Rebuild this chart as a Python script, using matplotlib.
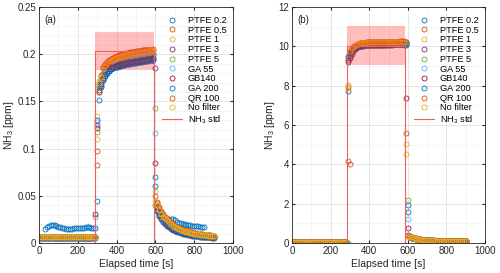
import numpy as np
import matplotlib
matplotlib.use('Agg')
import matplotlib.pyplot as plt
from matplotlib.ticker import FormatStrFormatter, MultipleLocator

plt.rcParams['font.family'] = ['Liberation Sans', 'DejaVu Sans']
plt.rcParams['mathtext.default'] = 'regular'

nan = np.nan

# sample times [s], shared by all series
t = [0, 10, 20, 30, 40, 50, 60, 70, 80, 90,
     100, 110, 120, 130, 140, 150, 160, 170, 180, 190,
     200, 210, 220, 230, 240, 250, 260, 270, 280, 290,
     300, 310, 320, 330, 340, 350, 360, 370, 380, 390,
     400, 410, 420, 430, 440, 450, 460, 470, 480, 490,
     500, 510, 520, 530, 540, 550, 560, 570, 580, 590,
     600, 610, 620, 630, 640, 650, 660, 670, 680, 690,
     700, 710, 720, 730, 740, 750, 760, 770, 780, 790,
     800, 810, 820, 830, 840, 850, 860, 870, 880, 890, 900]

labels = ['PTFE 0.2', 'PTFE 0.5', 'PTFE 1', 'PTFE 3', 'PTFE 5',
          'GA 55', 'GB140', 'GA 200', 'QR 100', 'No filter']
colors = ['#0072bd', '#d95319', '#edb120', '#7e2f8e', '#77ac30',
          '#4dbeee', '#a2142f', '#0072bd', '#d95319', '#edb120']

# ---------------- panel (a): 0.2 ppm standard ----------------
std_a_t = [0, 291, 291, 591, 591, 900]
std_a = [0, 0, 0.2035, 0.2035, 0, 0]
std_a_level = 0.2035
std_a_err = 0.02
band_a_t = [291, 591]

ptfe02_a = [0.0060, 0.0062, 0.0061, 0.0150, 0.0165, 0.0180, 0.0190, 0.0193, 0.0188, 0.0180,
            0.0172, 0.0165, 0.0160, 0.0155, 0.0150, 0.0148, 0.0150, 0.0152, 0.0155, 0.0155,
            0.0157, 0.0158, 0.0160, 0.0162, 0.0165, 0.0166, 0.0165, 0.0163, 0.0160, 0.0155,
            0.045, 0.152, 0.165, 0.173, 0.177, 0.180, 0.182, 0.184, 0.185, 0.186,
            0.187, 0.188, 0.188, 0.189, 0.189, 0.190, 0.190, 0.190, 0.191, 0.191,
            0.191, 0.192, 0.192, 0.192, 0.193, 0.193, 0.193, 0.194, 0.194, 0.194,
            0.070, 0.040, 0.034, 0.030, 0.027, 0.024, 0.023, 0.024, 0.0255, 0.0255,
            0.024, 0.0225, 0.0215, 0.021, 0.0205, 0.020, 0.0195, 0.019, 0.019, 0.0185,
            0.018, 0.018, 0.0175, 0.0172, 0.017, 0.0168, nan, nan, nan, nan, nan]
ptfe05_a = [0.0068, 0.0066, 0.0067, 0.0065, 0.0066, 0.0068, 0.0067, 0.0066, 0.0065, 0.0064,
            0.0065, 0.0066, 0.0067, 0.0066, 0.0065, 0.0064, 0.0065, 0.0066, 0.0066, 0.0065,
            0.0064, 0.0065, 0.0066, 0.0067, 0.0066, 0.0065, 0.0064, 0.0065, 0.0066, 0.0067,
            0.097, 0.165, 0.178, 0.186, 0.190, 0.192, 0.194, 0.195, 0.196, 0.197,
            0.198, 0.199, 0.199, 0.200, 0.200, 0.201, 0.201, 0.202, 0.202, 0.202,
            0.203, 0.203, 0.203, 0.204, 0.204, 0.204, 0.205, 0.205, 0.205, 0.205,
            0.040, 0.042, 0.037, 0.033, 0.030, 0.027, 0.025, 0.023, 0.021, 0.0195,
            0.018, 0.017, 0.016, 0.015, 0.014, 0.0135, 0.013, 0.0125, 0.012, 0.0115,
            0.011, 0.0105, 0.010, 0.0095, 0.009, 0.0088, 0.0085, 0.0082, 0.008, 0.0078, 0.0075]
ptfe1_a = [0.0062, 0.0063, 0.0061, 0.0062, 0.0064, 0.0063, 0.0062, 0.0061, 0.0062, 0.0063,
           0.0064, 0.0062, 0.0061, 0.0062, 0.0063, 0.0062, 0.0061, 0.0062, 0.0063, 0.0064,
           0.0063, 0.0062, 0.0061, 0.0062, 0.0063, 0.0064, 0.0063, 0.0062, 0.0061, 0.0062,
           0.135, 0.172, 0.177, 0.185, 0.189, 0.191, 0.193, 0.194, 0.195, 0.196,
           0.197, 0.198, 0.198, 0.199, 0.199, 0.200, 0.200, 0.201, 0.201, 0.201,
           0.202, 0.202, 0.202, 0.203, 0.203, 0.203, 0.204, 0.204, 0.204, 0.204,
           0.055, 0.039, 0.034, 0.030, 0.027, 0.025, 0.023, 0.021, 0.019, 0.018,
           0.0165, 0.0155, 0.0145, 0.0135, 0.0128, 0.012, 0.0115, 0.011, 0.0105, 0.010,
           0.0095, 0.0092, 0.0088, 0.0085, 0.0082, 0.008, 0.0078, 0.0075, 0.0072, 0.007, 0.0068]
ptfe3_a = [0.0058, 0.0059, 0.0060, 0.0059, 0.0058, 0.0057, 0.0058, 0.0059, 0.0060, 0.0059,
           0.0058, 0.0057, 0.0058, 0.0059, 0.0058, 0.0057, 0.0058, 0.0059, 0.0060, 0.0059,
           0.0058, 0.0059, 0.0058, 0.0057, 0.0058, 0.0059, 0.0060, 0.0059, 0.0058, 0.0059,
           0.125, 0.168, 0.172, 0.179, 0.183, 0.186, 0.188, 0.190, 0.191, 0.192,
           0.193, 0.194, 0.194, 0.195, 0.195, 0.196, 0.196, 0.197, 0.197, 0.197,
           0.198, 0.198, 0.198, 0.199, 0.199, 0.199, 0.200, 0.200, 0.200, 0.200,
           0.185, 0.038, 0.033, 0.029, 0.026, 0.024, 0.022, 0.020, 0.0185, 0.017,
           0.016, 0.015, 0.014, 0.013, 0.0122, 0.0115, 0.011, 0.0105, 0.010, 0.0095,
           0.009, 0.0087, 0.0084, 0.0081, 0.0078, 0.0075, 0.0072, 0.007, 0.0068, 0.0066, 0.0064]
ptfe5_a = [0.0061, 0.0060, 0.0059, 0.0060, 0.0061, 0.0062, 0.0061, 0.0060, 0.0059, 0.0060,
           0.0061, 0.0060, 0.0059, 0.0060, 0.0061, 0.0062, 0.0061, 0.0060, 0.0061, 0.0060,
           0.0059, 0.0060, 0.0061, 0.0062, 0.0061, 0.0060, 0.0059, 0.0060, 0.0061, 0.0060,
           0.118, 0.166, 0.173, 0.180, 0.184, 0.187, 0.189, 0.190, 0.191, 0.192,
           0.193, 0.193, 0.194, 0.194, 0.195, 0.195, 0.196, 0.196, 0.197, 0.197,
           0.197, 0.198, 0.198, 0.198, 0.199, 0.199, 0.199, 0.200, 0.200, 0.200,
           0.143, 0.037, 0.032, 0.028, 0.025, 0.023, 0.021, 0.0195, 0.018, 0.0168,
           0.0158, 0.0148, 0.0138, 0.0128, 0.012, 0.0113, 0.0108, 0.0103, 0.0098, 0.0093,
           0.0089, 0.0086, 0.0083, 0.008, 0.0077, 0.0074, 0.0071, 0.0069, 0.0067, 0.0065, 0.0063]
ga55_a = [0.0057, 0.0058, 0.0057, 0.0056, 0.0057, 0.0058, 0.0059, 0.0058, 0.0057, 0.0056,
          0.0057, 0.0058, 0.0057, 0.0056, 0.0057, 0.0058, 0.0059, 0.0058, 0.0057, 0.0058,
          0.0057, 0.0056, 0.0057, 0.0058, 0.0057, 0.0056, 0.0057, 0.0058, 0.0057, 0.027,
          0.128, 0.165, 0.172, 0.178, 0.182, 0.185, 0.187, 0.189, 0.190, 0.191,
          0.192, 0.192, 0.193, 0.193, 0.194, 0.194, 0.195, 0.195, 0.196, 0.196,
          0.196, 0.197, 0.197, 0.197, 0.198, 0.198, 0.198, 0.199, 0.199, 0.199,
          0.117, 0.036, 0.031, 0.027, 0.024, 0.022, 0.020, 0.0185, 0.017, 0.016,
          0.015, 0.014, 0.013, 0.0122, 0.0115, 0.0108, 0.0102, 0.0097, 0.0092, 0.0088,
          0.0084, 0.0081, 0.0078, 0.0075, 0.0072, 0.007, 0.0068, 0.0066, 0.0064, 0.0062, 0.006]
gb140_a = [0.0052, 0.0053, 0.0054, 0.0053, 0.0052, 0.0051, 0.0052, 0.0053, 0.0054, 0.0053,
           0.0052, 0.0053, 0.0054, 0.0053, 0.0052, 0.0051, 0.0052, 0.0053, 0.0052, 0.0053,
           0.0054, 0.0053, 0.0052, 0.0051, 0.0052, 0.0053, 0.0054, 0.0053, 0.0052, 0.031,
           0.122, 0.162, 0.168, 0.175, 0.179, 0.182, 0.184, 0.186, 0.187, 0.188,
           0.189, 0.189, 0.190, 0.190, 0.191, 0.191, 0.192, 0.192, 0.192, 0.193,
           0.193, 0.193, 0.194, 0.194, 0.194, 0.195, 0.195, 0.195, 0.196, 0.196,
           0.085, 0.034, 0.029, 0.025, 0.022, 0.020, 0.018, 0.0165, 0.015, 0.014,
           0.013, 0.012, 0.0113, 0.0106, 0.010, 0.0095, 0.009, 0.0086, 0.0082, 0.0078,
           0.0075, 0.0072, 0.007, 0.0068, 0.0066, 0.0064, 0.0062, 0.006, 0.0058, 0.0057, 0.0056]
ga200_a = [0.0055, 0.0056, 0.0055, 0.0054, 0.0055, 0.0056, 0.0057, 0.0056, 0.0055, 0.0054,
           0.0055, 0.0056, 0.0055, 0.0054, 0.0055, 0.0056, 0.0057, 0.0056, 0.0055, 0.0056,
           0.0055, 0.0054, 0.0055, 0.0056, 0.0055, 0.0054, 0.0055, 0.0056, 0.0055, 0.0056,
           0.130, 0.160, 0.166, 0.173, 0.177, 0.180, 0.182, 0.184, 0.185, 0.186,
           0.187, 0.188, 0.188, 0.189, 0.189, 0.190, 0.190, 0.191, 0.191, 0.191,
           0.192, 0.192, 0.192, 0.193, 0.193, 0.193, 0.194, 0.194, 0.194, 0.195,
           0.060, 0.035, 0.030, 0.026, 0.023, 0.021, 0.019, 0.0175, 0.016, 0.015,
           0.014, 0.013, 0.012, 0.0113, 0.0106, 0.010, 0.0095, 0.009, 0.0086, 0.0082,
           0.0078, 0.0075, 0.0072, 0.007, 0.0068, 0.0066, 0.0064, 0.0062, 0.006, 0.0059, 0.0058]
qr100_a = [0.0066, 0.0067, 0.0068, 0.0067, 0.0066, 0.0065, 0.0066, 0.0067, 0.0068, 0.0067,
           0.0066, 0.0065, 0.0066, 0.0067, 0.0068, 0.0067, 0.0066, 0.0065, 0.0066, 0.0067,
           0.0068, 0.0067, 0.0066, 0.0065, 0.0066, 0.0067, 0.0068, 0.0067, 0.0066, 0.0065,
           0.083, 0.160, 0.176, 0.185, 0.189, 0.192, 0.193, 0.195, 0.196, 0.197,
           0.198, 0.198, 0.199, 0.199, 0.200, 0.200, 0.201, 0.201, 0.202, 0.202,
           0.202, 0.203, 0.203, 0.203, 0.204, 0.204, 0.204, 0.205, 0.205, 0.206,
           0.050, 0.043, 0.038, 0.034, 0.031, 0.028, 0.026, 0.024, 0.022, 0.020,
           0.0185, 0.0172, 0.016, 0.015, 0.0142, 0.0135, 0.0128, 0.0122, 0.0117, 0.0112,
           0.0108, 0.0104, 0.010, 0.0096, 0.0092, 0.0089, 0.0086, 0.0083, 0.008, 0.0078, 0.0076]
nofilter_a = [0.0064, 0.0065, 0.0064, 0.0063, 0.0064, 0.0065, 0.0066, 0.0065, 0.0064, 0.0063,
              0.0064, 0.0065, 0.0066, 0.0065, 0.0064, 0.0063, 0.0064, 0.0065, 0.0064, 0.0063,
              0.0064, 0.0065, 0.0066, 0.0065, 0.0064, 0.0063, 0.0064, 0.0065, 0.0064, 0.0065,
              0.110, 0.170, 0.176, 0.184, 0.188, 0.191, 0.193, 0.194, 0.195, 0.196,
              0.197, 0.197, 0.198, 0.198, 0.199, 0.199, 0.200, 0.200, 0.201, 0.201,
              0.201, 0.202, 0.202, 0.202, 0.203, 0.203, 0.203, 0.204, 0.204, 0.204,
              0.045, 0.040, 0.035, 0.031, 0.028, 0.026, 0.024, 0.022, 0.020, 0.0185,
              0.017, 0.016, 0.015, 0.014, 0.0132, 0.0125, 0.012, 0.0114, 0.0109, 0.0104,
              0.010, 0.0096, 0.0092, 0.0089, 0.0086, 0.0083, 0.008, 0.0077, 0.0075, 0.0072, 0.007]

# ---------------- panel (b): 10 ppm standard ----------------
std_b_t = [0, 283, 283, 584, 584, 900]
std_b = [0, 0, 10.03, 10.03, 0, 0]
std_b_level = 10.03
std_b_err = 1.0
band_b_t = [285, 584]

ptfe02_b = [0.05, 0.04, 0.05, 0.06, 0.05, 0.04, 0.05, 0.05, 0.06, 0.05,
            0.04, 0.05, 0.05, 0.06, 0.05, 0.04, 0.05, 0.05, 0.06, 0.05,
            0.04, 0.05, 0.05, 0.06, 0.05, 0.04, 0.05, 0.05, 0.06, 7.75,
            9.60, 9.80, 9.90, 9.96, 10.00, 10.02, 10.04, 10.05, 10.06, 10.06,
            10.07, 10.07, 10.08, 10.08, 10.08, 10.09, 10.09, 10.09, 10.09, 10.10,
            10.10, 10.10, 10.10, 10.10, 10.10, 10.10, 10.10, 10.10, 10.08, 10.05,
            1.95, 0.32, 0.28, 0.25, 0.22, 0.20, 0.18, 0.17, 0.16, 0.15,
            0.14, 0.135, 0.13, 0.125, 0.12, 0.115, 0.11, 0.105, 0.10, 0.098,
            0.095, 0.092, 0.09, 0.088, 0.085, 0.083, 0.08, 0.078, 0.076, 0.08, 0.09]
ptfe05_b = [0.06, 0.05, 0.05, 0.04, 0.05, 0.06, 0.05, 0.05, 0.04, 0.05,
            0.06, 0.05, 0.05, 0.04, 0.05, 0.06, 0.05, 0.05, 0.04, 0.05,
            0.06, 0.05, 0.05, 0.04, 0.05, 0.06, 0.05, 0.05, 0.04, 7.95,
            9.75, 9.92, 10.02, 10.08, 10.12, 10.15, 10.17, 10.18, 10.19, 10.20,
            10.20, 10.21, 10.21, 10.21, 10.22, 10.22, 10.22, 10.22, 10.23, 10.23,
            10.23, 10.23, 10.23, 10.23, 10.24, 10.24, 10.24, 10.24, 10.24, 5.62,
            0.35, 0.33, 0.29, 0.26, 0.23, 0.21, 0.19, 0.175, 0.165, 0.155,
            0.145, 0.14, 0.135, 0.13, 0.125, 0.12, 0.115, 0.11, 0.105, 0.102,
            0.099, 0.096, 0.093, 0.091, 0.089, 0.087, 0.085, 0.083, 0.082, 0.085, 0.095]
ptfe1_b = [0.05, 0.05, 0.06, 0.05, 0.04, 0.05, 0.05, 0.06, 0.05, 0.04,
           0.05, 0.05, 0.06, 0.05, 0.04, 0.05, 0.05, 0.06, 0.05, 0.04,
           0.05, 0.05, 0.06, 0.05, 0.04, 0.05, 0.05, 0.06, 0.05, 7.90,
           9.72, 9.90, 10.00, 10.06, 10.10, 10.13, 10.15, 10.16, 10.17, 10.18,
           10.18, 10.19, 10.19, 10.19, 10.20, 10.20, 10.20, 10.20, 10.21, 10.21,
           10.21, 10.21, 10.21, 10.22, 10.22, 10.22, 10.22, 10.22, 10.22, 4.55,
           0.34, 0.32, 0.28, 0.25, 0.22, 0.20, 0.185, 0.17, 0.16, 0.15,
           0.142, 0.136, 0.13, 0.125, 0.12, 0.115, 0.11, 0.106, 0.102, 0.099,
           0.096, 0.093, 0.09, 0.088, 0.086, 0.084, 0.082, 0.08, 0.078, 0.082, 0.09]
ptfe3_b = [0.04, 0.05, 0.05, 0.05, 0.06, 0.05, 0.04, 0.05, 0.05, 0.05,
           0.06, 0.05, 0.04, 0.05, 0.05, 0.05, 0.06, 0.05, 0.04, 0.05,
           0.05, 0.05, 0.06, 0.05, 0.04, 0.05, 0.05, 0.05, 0.06, 9.20,
           9.40, 9.60, 9.80, 9.92, 10.00, 10.05, 10.08, 10.10, 10.12, 10.13,
           10.14, 10.14, 10.15, 10.15, 10.16, 10.16, 10.16, 10.17, 10.17, 10.17,
           10.17, 10.18, 10.18, 10.18, 10.18, 10.18, 10.19, 10.19, 10.19, 10.20,
           0.40, 0.31, 0.27, 0.24, 0.21, 0.19, 0.175, 0.165, 0.155, 0.145,
           0.138, 0.132, 0.127, 0.122, 0.117, 0.112, 0.107, 0.103, 0.10, 0.097,
           0.094, 0.091, 0.089, 0.087, 0.085, 0.082, 0.08, 0.078, 0.077, 0.08, 0.088]
ptfe5_b = [0.05, 0.06, 0.05, 0.04, 0.05, 0.05, 0.06, 0.05, 0.04, 0.05,
           0.05, 0.06, 0.05, 0.04, 0.05, 0.05, 0.06, 0.05, 0.04, 0.05,
           0.05, 0.06, 0.05, 0.04, 0.05, 0.05, 0.06, 0.05, 0.04, 9.50,
           9.70, 9.86, 9.95, 10.01, 10.05, 10.08, 10.10, 10.11, 10.12, 10.13,
           10.13, 10.14, 10.14, 10.15, 10.15, 10.15, 10.16, 10.16, 10.16, 10.16,
           10.17, 10.17, 10.17, 10.17, 10.17, 10.18, 10.18, 10.18, 10.18, 10.12,
           2.20, 0.31, 0.27, 0.24, 0.215, 0.195, 0.18, 0.168, 0.158, 0.148,
           0.14, 0.134, 0.128, 0.123, 0.118, 0.113, 0.108, 0.104, 0.10, 0.097,
           0.094, 0.091, 0.089, 0.087, 0.084, 0.082, 0.08, 0.078, 0.076, 0.079, 0.087]
ga55_b = [0.04, 0.05, 0.05, 0.06, 0.05, 0.04, 0.05, 0.05, 0.06, 0.05,
          0.04, 0.05, 0.05, 0.06, 0.05, 0.04, 0.05, 0.05, 0.06, 0.05,
          0.04, 0.05, 0.05, 0.06, 0.05, 0.04, 0.05, 0.05, 0.06, 0.02,
          9.62, 9.84, 9.94, 10.00, 10.04, 10.07, 10.09, 10.10, 10.11, 10.12,
          10.12, 10.13, 10.13, 10.14, 10.14, 10.14, 10.15, 10.15, 10.15, 10.15,
          10.16, 10.16, 10.16, 10.16, 10.16, 10.17, 10.17, 10.17, 10.17, 10.15,
          1.20, 0.30, 0.26, 0.23, 0.21, 0.19, 0.175, 0.165, 0.155, 0.146,
          0.139, 0.133, 0.127, 0.122, 0.117, 0.112, 0.107, 0.103, 0.099, 0.096,
          0.093, 0.09, 0.088, 0.086, 0.083, 0.081, 0.079, 0.077, 0.075, 0.078, 0.086]
gb140_b = [0.05, 0.05, 0.04, 0.05, 0.06, 0.05, 0.05, 0.04, 0.05, 0.06,
           0.05, 0.05, 0.04, 0.05, 0.06, 0.05, 0.05, 0.04, 0.05, 0.06,
           0.05, 0.05, 0.04, 0.05, 0.06, 0.05, 0.05, 0.04, 0.05, 9.30,
           9.50, 9.72, 9.85, 9.93, 9.98, 10.01, 10.03, 10.04, 10.05, 10.06,
           10.06, 10.07, 10.07, 10.07, 10.08, 10.08, 10.08, 10.08, 10.09, 10.09,
           10.09, 10.09, 10.09, 10.10, 10.10, 10.10, 10.10, 10.10, 10.10, 7.40,
           0.75, 0.30, 0.26, 0.23, 0.205, 0.185, 0.17, 0.16, 0.15, 0.142,
           0.135, 0.129, 0.124, 0.119, 0.114, 0.109, 0.105, 0.101, 0.098, 0.095,
           0.092, 0.089, 0.087, 0.085, 0.083, 0.081, 0.079, 0.077, 0.075, 0.078, 0.085]
ga200_b = [0.05, 0.04, 0.05, 0.05, 0.06, 0.05, 0.04, 0.05, 0.05, 0.06,
           0.05, 0.04, 0.05, 0.05, 0.06, 0.05, 0.04, 0.05, 0.05, 0.06,
           0.05, 0.04, 0.05, 0.05, 0.06, 0.05, 0.04, 0.05, 0.05, 9.45,
           9.65, 9.82, 9.92, 9.98, 10.02, 10.04, 10.06, 10.07, 10.08, 10.08,
           10.09, 10.09, 10.10, 10.10, 10.10, 10.10, 10.11, 10.11, 10.11, 10.11,
           10.12, 10.12, 10.12, 10.12, 10.12, 10.12, 10.12, 10.12, 10.12, 10.10,
           1.60, 0.31, 0.27, 0.24, 0.21, 0.19, 0.177, 0.166, 0.156, 0.147,
           0.14, 0.134, 0.128, 0.123, 0.118, 0.113, 0.108, 0.104, 0.10, 0.097,
           0.094, 0.091, 0.089, 0.087, 0.084, 0.082, 0.08, 0.078, 0.076, 0.079, 0.088]
qr100_b = [0.05, 0.06, 0.05, 0.05, 0.04, 0.05, 0.06, 0.05, 0.05, 0.04,
           0.05, 0.06, 0.05, 0.05, 0.04, 0.05, 0.06, 0.05, 0.05, 0.04,
           0.05, 0.06, 0.05, 0.05, 0.04, 0.05, 0.06, 0.05, 0.05, 4.15,
           4.00, 9.85, 10.00, 10.07, 10.11, 10.14, 10.16, 10.18, 10.19, 10.20,
           10.20, 10.21, 10.21, 10.22, 10.22, 10.22, 10.22, 10.23, 10.23, 10.23,
           10.23, 10.24, 10.24, 10.24, 10.24, 10.24, 10.25, 10.25, 10.25, 10.22,
           0.36, 0.33, 0.29, 0.26, 0.23, 0.21, 0.195, 0.18, 0.168, 0.158,
           0.148, 0.142, 0.136, 0.131, 0.126, 0.121, 0.116, 0.111, 0.107, 0.103,
           0.10, 0.097, 0.094, 0.092, 0.09, 0.088, 0.086, 0.084, 0.083, 0.086, 0.096]
nofilter_b = [0.05, 0.05, 0.05, 0.06, 0.05, 0.04, 0.05, 0.05, 0.05, 0.06,
              0.05, 0.04, 0.05, 0.05, 0.05, 0.06, 0.05, 0.04, 0.05, 0.05,
              0.05, 0.06, 0.05, 0.04, 0.05, 0.05, 0.05, 0.06, 0.05, 8.05,
              9.78, 9.94, 10.03, 10.09, 10.13, 10.15, 10.17, 10.18, 10.19, 10.20,
              10.20, 10.20, 10.21, 10.21, 10.21, 10.22, 10.22, 10.22, 10.22, 10.22,
              10.23, 10.23, 10.23, 10.23, 10.23, 10.23, 10.24, 10.24, 10.24, 5.05,
              0.34, 0.32, 0.28, 0.25, 0.225, 0.205, 0.19, 0.175, 0.163, 0.153,
              0.145, 0.139, 0.133, 0.128, 0.123, 0.118, 0.113, 0.108, 0.104, 0.10,
              0.097, 0.094, 0.092, 0.09, 0.088, 0.086, 0.084, 0.082, 0.08, 0.084, 0.094]

series_a = [ptfe02_a, ptfe05_a, ptfe1_a, ptfe3_a, ptfe5_a,
            ga55_a, gb140_a, ga200_a, qr100_a, nofilter_a]
series_b = [ptfe02_b, ptfe05_b, ptfe1_b, ptfe3_b, ptfe5_b,
            ga55_b, gb140_b, ga200_b, qr100_b, nofilter_b]


def draw_panel(ax, series, std_t, std_v, level, err, band_t, ymax, ystep, yminor, tag):
    for vals, lab, col in zip(series, labels, colors):
        ax.plot(t, np.array(vals, dtype=float), 'o', mfc='none', mec=col,
                ms=3.6, mew=0.6, label=lab, zorder=2)
    # +/- 10 % band of the standard
    ax.fill_between(band_t, level - err, level + err,
                    color='red', alpha=0.25, lw=0, zorder=3)
    ax.plot(std_t, std_v, color='#f06060', lw=0.8, label='NH$_3$ std', zorder=4)

    ax.set_xlim(0, 1000)
    ax.set_ylim(0, ymax)
    ax.xaxis.set_major_locator(MultipleLocator(200))
    ax.xaxis.set_minor_locator(MultipleLocator(100))
    ax.yaxis.set_major_locator(MultipleLocator(ystep))
    ax.yaxis.set_minor_locator(MultipleLocator(yminor))
    ax.yaxis.set_major_formatter(FormatStrFormatter('%g'))
    ax.grid(which='major', color='#dcdcdc', lw=0.5)
    ax.grid(which='minor', color='#eeeeee', lw=0.4)
    ax.set_axisbelow(True)
    ax.tick_params(direction='in', which='both', labelsize=7, colors='#262626',
                   top=True, right=True, length=2, pad=2)
    ax.tick_params(which='minor', length=0)
    for s in ax.spines.values():
        s.set_color('#262626')
        s.set_linewidth(0.6)
    ax.set_xlabel('Elapsed time [s]', fontsize=7.5, color='#262626', labelpad=2)
    ax.set_ylabel('NH$_3$ [ppm]', fontsize=7.5, color='#262626', labelpad=1)
    ax.text(0.03, 0.965, tag, transform=ax.transAxes, fontsize=7,
            va='top', ha='left', color='#262626')
    ax.legend(loc='upper right', bbox_to_anchor=(1.0, 0.99), frameon=False,
              fontsize=6.6, labelspacing=0.08, handlelength=2.2,
              handletextpad=0.6, borderpad=0.2)


fig = plt.figure(figsize=(5.0, 2.73), dpi=100)
ax_a = fig.add_axes([0.078, 0.11, 0.388, 0.864])
ax_b = fig.add_axes([0.584, 0.11, 0.386, 0.864])

draw_panel(ax_a, series_a, std_a_t, std_a, std_a_level, std_a_err, band_a_t,
           0.25, 0.05, 0.01, '(a)')
draw_panel(ax_b, series_b, std_b_t, std_b, std_b_level, std_b_err, band_b_t,
           12, 2, 1, '(b)')

fig.savefig('out.png', dpi=100)
